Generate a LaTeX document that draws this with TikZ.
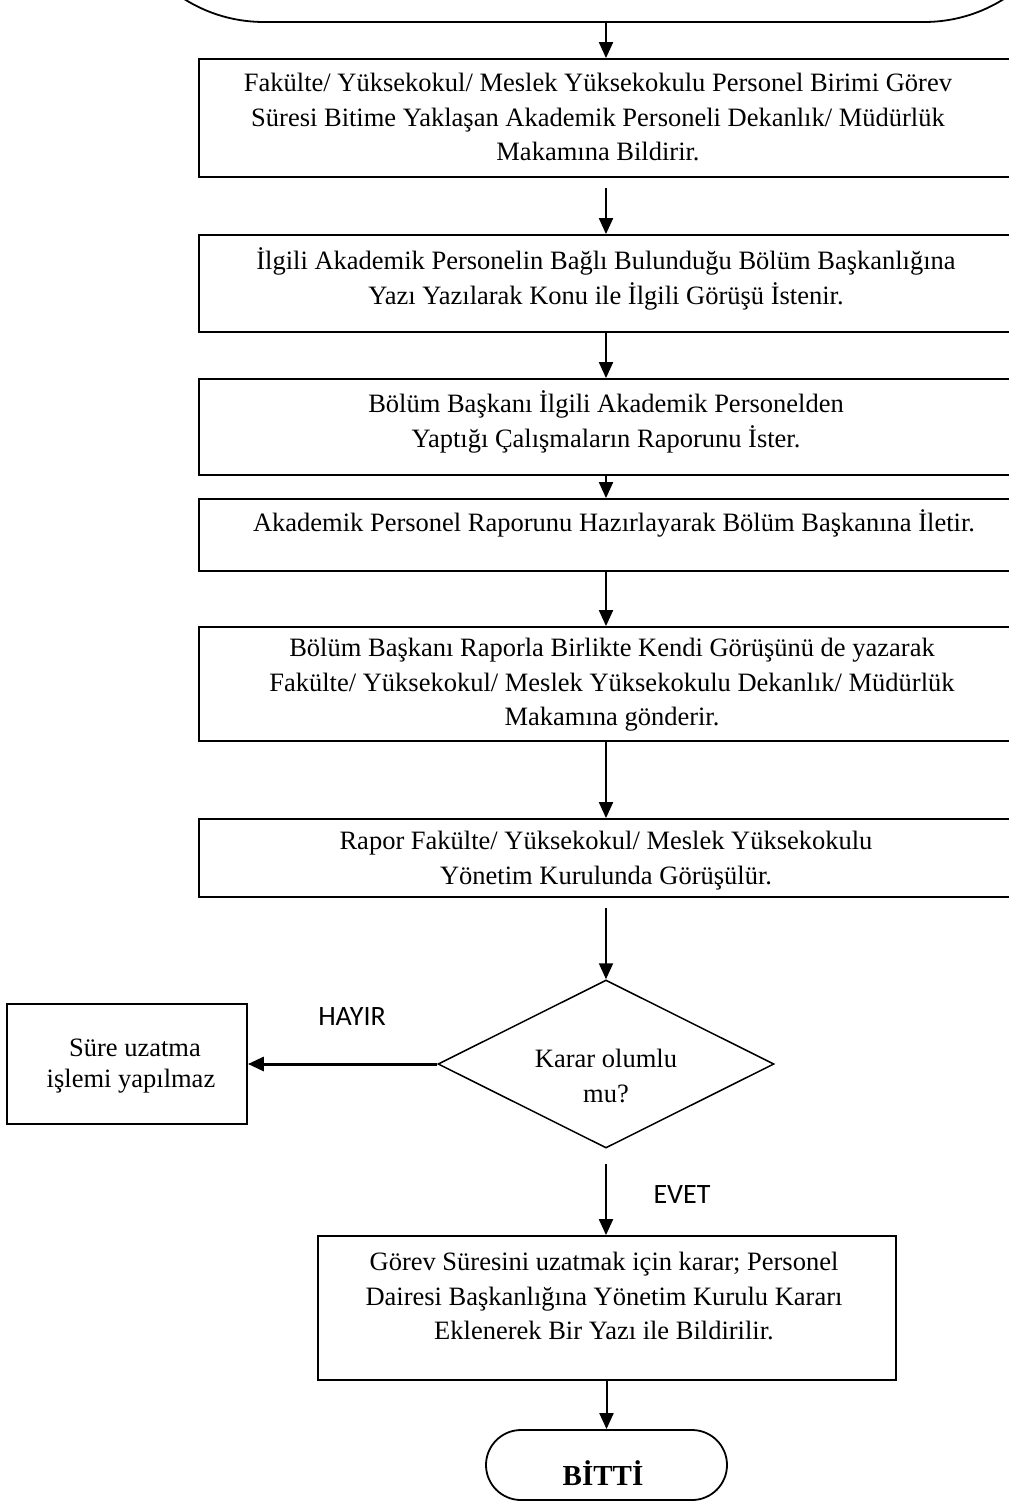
\documentclass[tikz,border=0pt]{standalone}
\usepackage{fontspec}
\setmainfont{Liberation Serif}
\newfontfamily\calibri{Carlito}
\usetikzlibrary{arrows.meta,shapes.geometric}
\begin{document}
\begin{tikzpicture}[x=1pt,y=-1pt,
  box/.style={draw, line width=1.8pt, minimum width=814pt, inner sep=0pt},
  txt/.style={font=\fontsize{26.5}{34.5}\selectfont, align=center, inner sep=0pt,
              execute at begin node=\strut, execute at end node=\strut},
  arr/.style={line width=2pt, -{Triangle[length=16pt,width=14pt]}},
  lbl/.style={font=\calibri\fontsize{28}{34}\selectfont, inner sep=0pt}]
\useasboundingbox (0,0) rectangle (1009,1502);
\clip (0,0) rectangle (1009,1502);

% start terminal (only its lower part is visible)
\node[draw, line width=1.8pt, rounded corners=150pt, minimum width=960pt,
      minimum height=320pt, inner sep=0pt] (start) at (594,-138) {};

% process boxes
\node[box, minimum height=118pt] (b1) at (606,118) {};
\node[txt] (t1) at (598,122) {Fakülte/ Yüksekokul/ Meslek Yüksekokulu Personel Birimi Görev\\
  Süresi Bitime Yaklaşan Akademik Personeli Dekanlık/ Müdürlük\\ Makamına Bildirir.};

\node[box, minimum height=97pt] (b2) at (606,283.5) {};
\node[txt] (t2) at (606,281) {İlgili Akademik Personelin Bağlı Bulunduğu Bölüm Başkanlığına\\
  Yazı Yazılarak Konu ile İlgili Görüşü İstenir.};

\node[box, minimum height=96pt] (b3) at (606,427) {};
\node[txt] (t3) at (606,424) {Bölüm Başkanı İlgili Akademik Personelden\\
  Yaptığı Çalışmaların Raporunu İster.};

\node[box, minimum height=72pt] (b4) at (606,535) {};
\node[txt] (t4) at (614,525) {Akademik Personel Raporunu Hazırlayarak Bölüm Başkanına İletir.};

\node[box, minimum height=114pt] (b5) at (606,684) {};
\node[txt] (t5) at (612,687) {Bölüm Başkanı Raporla Birlikte Kendi Görüşünü de yazarak\\
  Fakülte/ Yüksekokul/ Meslek Yüksekokulu Dekanlık/ Müdürlük\\ Makamına gönderir.};

\node[box, minimum height=78pt] (b6) at (606,858) {};
\node[txt] (t6) at (606,863) {Rapor Fakülte/ Yüksekokul/ Meslek Yüksekokulu\\
  Yönetim Kurulunda Görüşülür.};

% decision
\node[draw, diamond, line width=1.5pt, minimum width=336pt, minimum height=168pt,
      aspect=2, inner sep=0pt] (d) at (606,1064) {};
\node[txt] (td) at (606,1081) {Karar olumlu\\ mu?};

% no branch
\node[draw, line width=1.8pt, minimum width=240pt, minimum height=120pt, inner sep=0pt]
      (b7) at (127,1064) {};
\node[txt, font=\fontsize{26.5}{31}\selectfont] (t7) at (131,1068) {\hspace*{8pt}Süre uzatma\\ işlemi yapılmaz};

% yes branch
\node[draw, line width=1.8pt, minimum width=578pt, minimum height=144pt, inner sep=0pt]
      (b8) at (607,1308) {};
\node[txt] (t8) at (604,1301) {Görev Süresini uzatmak için karar; Personel\\
  Dairesi Başkanlığına Yönetim Kurulu Kararı\\ Eklenerek Bir Yazı ile Bildirilir.};

% end terminal
\node[draw, line width=1.8pt, rounded corners=35pt, minimum width=241pt,
      minimum height=70pt, inner sep=0pt] (end) at (606.5,1465) {};
\node[font=\bfseries\fontsize{29}{34}\selectfont, inner sep=0pt] (tend) at (603,1473) {BİTTİ};

% labels
\node[lbl] (hayir) at (352,1017) {HAYIR};
\node[lbl] (evet) at (682,1195) {EVET};

% connectors
\draw[arr] (b1.north |- start.south) -- (b1.north);
\draw[arr, shorten <=10pt] (b1) -- (b2);
\draw[arr] (b2) -- (b3);
\draw[arr] (b3) -- (b4);
\draw[arr] (b4) -- (b5);
\draw[arr] (b5) -- (b6);
\draw[arr, shorten <=10pt] (b6) -- (d);
\draw[arr, line width=3pt] (d) -- (b7);
\draw[arr, shorten <=15pt] (d) -- (b8.north -| d.south);
\draw[arr] (b8.south -| end.north) -- (end);
\end{tikzpicture}
\end{document}
